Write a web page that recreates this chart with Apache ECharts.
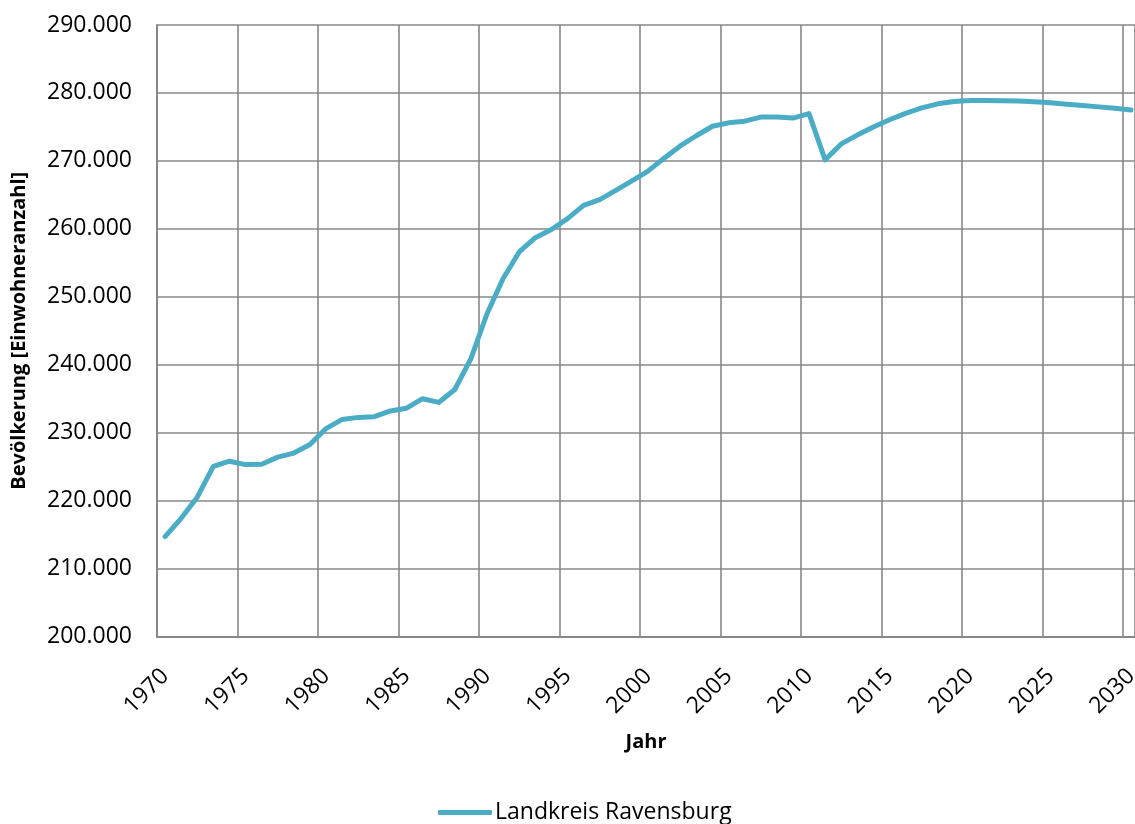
<!DOCTYPE html>
<html>
<head>
<meta charset="utf-8">
<title>Bevölkerung Landkreis Ravensburg</title>
<script src="https://cdn.jsdelivr.net/npm/echarts@6/dist/echarts.min.js"></script>
<style>
  html, body { margin: 0; padding: 0; background: #fff; }
  #chart { width: 1135px; height: 824px; }
</style>
</head>
<body>
<div id="chart"></div>
<script>
// Jahre (Stützstellen) und Einwohnerzahlen
const years = [
  1970, 1971, 1972, 1973, 1974, 1975, 1976, 1977, 1978, 1979,
  1980, 1981, 1982, 1983, 1984, 1985, 1986, 1987, 1988, 1989,
  1990, 1991, 1992, 1993, 1994, 1995, 1996, 1997, 1998, 1999,
  2000, 2001, 2002, 2003, 2004, 2005, 2006, 2007, 2008, 2009,
  2010, 2011, 2012, 2013, 2014, 2015, 2016, 2017, 2018, 2019,
  2020, 2021, 2022, 2023, 2024, 2025, 2026, 2027, 2028, 2029,
  2030
];
const population = [
  214700, 217400, 220500, 225050, 225800, 225300, 225350, 226400, 227000, 228250,
  230600, 231950, 232250, 232350, 233200, 233600, 235000, 234450, 236350, 240900,
  247500, 252700, 256600, 258700, 259900, 261500, 263450, 264300, 265650, 267050,
  268500, 270400, 272200, 273700, 275100, 275600, 275850, 276450, 276450, 276300,
  276950, 270150, 272500, 273800, 275000, 276050, 277000, 277800, 278400, 278750,
  278900, 278900, 278850, 278800, 278700, 278550, 278350, 278150, 277950, 277750,
  277500
];
const seriesName = 'Landkreis Ravensburg';
const yTicks = { min: 200000, max: 290000, step: 10000 };
const xTicks = { min: 1970, last: 2030, step: 5 };

// each year is plotted in the middle of its one-year slot
const points = years.map((y, i) => [y + 0.5, population[i]]);

const fmtDE = v => String(v).replace(/\B(?=(\d{3})+(?!\d))/g, '.');
const FONT = '"Open Sans", "DejaVu Sans", sans-serif';
const GRID = '#888888';

const chart = echarts.init(document.getElementById('chart'), null, { renderer: 'canvas' });
chart.setOption({
  animation: false,
  backgroundColor: '#ffffff',
  textStyle: { fontFamily: FONT, color: '#000' },
  grid: {
    left: 157, top: 25, right: 0, bottom: 187.5,
    containLabel: false,
    outerBoundsMode: 'none'
  },
  xAxis: {
    type: 'value',
    min: xTicks.min,
    max: xTicks.last + 0.75,
    interval: xTicks.step,
    name: 'Jahr',
    nameLocation: 'middle',
    nameGap: 96,
    nameTextStyle: { fontFamily: FONT, fontSize: 20, fontWeight: 'bold', color: '#000' },
    axisLine: { show: true, onZero: false, lineStyle: { color: GRID, width: 2 } },
    axisTick: { show: false },
    splitLine: {
      show: true,
      lineStyle: { color: GRID, width: 1.6 }
    },
    axisLabel: {
      rotate: 45,
      margin: 28,
      align: 'right',
      verticalAlign: 'top',
      fontFamily: FONT,
      fontSize: 23,
      color: '#000',
      showMaxLabel: false,
      formatter: v => (v % xTicks.step === 0 && v <= xTicks.last) ? String(v) : ''
    }
  },
  yAxis: {
    type: 'value',
    min: yTicks.min,
    max: yTicks.max,
    interval: yTicks.step,
    name: 'Bevölkerung [Einwohneranzahl]',
    nameLocation: 'middle',
    nameGap: 128,
    nameTextStyle: { fontFamily: FONT, fontSize: 20, fontWeight: 'bold', color: '#000' },
    axisLine: { show: true, lineStyle: { color: GRID, width: 2 } },
    axisTick: { show: false },
    splitLine: { show: true, lineStyle: { color: GRID, width: 1.6 } },
    axisLabel: {
      margin: 25,
      fontFamily: FONT,
      fontSize: 23,
      color: '#000',
      formatter: v => fmtDE(v)
    }
  },
  legend: {
    show: true,
    top: 796,
    left: 433,
    itemWidth: 54,
    itemHeight: 5,
    itemGap: 4,
    icon: 'roundRect',
    textStyle: { fontFamily: FONT, fontSize: 23, color: '#000', padding: [0, 0, 0, -2] },
    data: [seriesName]
  },
  series: [{
    name: seriesName,
    type: 'line',
    data: points,
    showSymbol: false,
    symbol: 'none',
    smooth: false,
    clip: false,
    lineStyle: { color: '#4BACC6', width: 5, cap: 'round', join: 'round' },
    itemStyle: { color: '#4BACC6' }
  }]
});
</script>
</body>
</html>
